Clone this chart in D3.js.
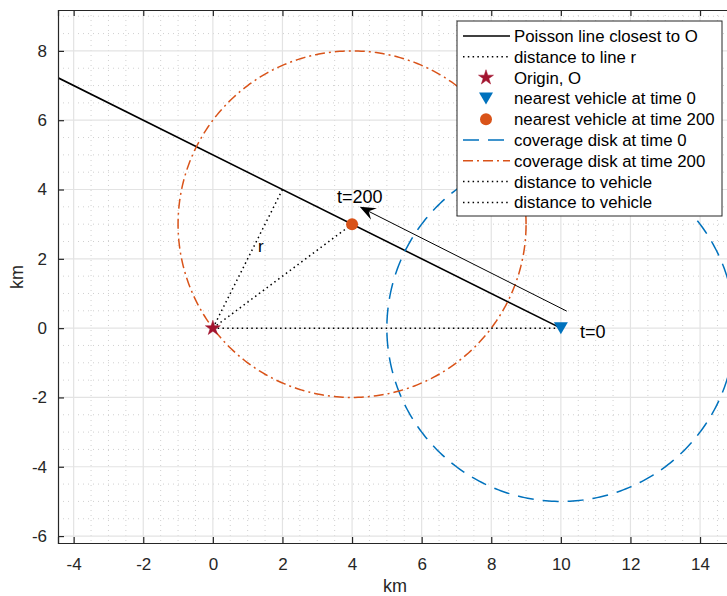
<!DOCTYPE html>
<html>
<head>
<meta charset="utf-8">
<script src="https://cdn.jsdelivr.net/npm/d3@7"></script>
<style>
  html, body { margin: 0; padding: 0; background: #fff; }
  svg { display: block; font-family: "Liberation Sans", Arial, Helvetica, sans-serif; }
</style>
</head>
<body>
<svg id="chart" width="727" height="596"></svg>
<script>
// Geometry of the scenario (km)
const origin = [0, 0];
const vehicleT0 = [10, 0];
const vehicleT200 = [4, 3];
const footOfPerpendicular = [2, 4];
const poissonLine = [[-6, 8], [10, 0]];
const coverageRadius = 5;
const arrowTail = [10.17, 0.49];
const arrowHead = [4.22, 3.5];
const labelT200 = { text: "t=200", pos: [4.22, 3.62] };
const labelT0 = { text: "t=0", pos: [10.55, -0.1] };
const labelR = { text: "r", pos: [1.38, 2.2] };

const xTicks = [-4, -2, 0, 2, 4, 6, 8, 10, 12, 14];
const yTicks = [-6, -4, -2, 0, 2, 4, 6, 8];
const xDomain = [-4.45, 15];
const yDomain = [-6.2, 9.18];

const legendEntries = [
  { label: "Poisson line closest to O", kind: "line", color: "#000", dash: null },
  { label: "distance to line r", kind: "line", color: "#000", dash: "1.5,3.3" },
  { label: "Origin, O", kind: "star", color: "#A2142F" },
  { label: "nearest vehicle at time 0", kind: "tri", color: "#0072BD" },
  { label: "nearest vehicle at time 200", kind: "circle", color: "#D95319" },
  { label: "coverage disk at time 0", kind: "line", color: "#0072BD", dash: "16,9" },
  { label: "coverage disk at time 200", kind: "line", color: "#D95319", dash: "10,4,2,4" },
  { label: "distance to vehicle", kind: "line", color: "#000", dash: "1.5,3.3" },
  { label: "distance to vehicle", kind: "line", color: "#000", dash: "1.5,3.3" }
];

const svg = d3.select("#chart");
const pLeft = 58, pTop = 10, pBottom = 543;
const unit = 34.8;
const pRight = pLeft + (xDomain[1] - xDomain[0]) * unit;

const x = d3.scaleLinear().domain(xDomain).range([pLeft, pRight]);
const y = d3.scaleLinear().domain(yDomain).range([pBottom, pTop]);

svg.append("defs").append("clipPath").attr("id", "plotClip")
  .append("rect").attr("x", pLeft).attr("y", pTop)
  .attr("width", pRight - pLeft).attr("height", pBottom - pTop);

// Minor grid (every 0.5 km)
const minorX = d3.range(-4, 15.01, 0.5).filter(v => Math.abs(v % 2) > 1e-9);
const minorY = d3.range(-6, 9.01, 0.5).filter(v => Math.abs(v % 2) > 1e-9);
const grid = svg.append("g").attr("clip-path", "url(#plotClip)");
grid.selectAll(".mx").data(minorX).join("line")
  .attr("x1", d => x(d)).attr("x2", d => x(d)).attr("y1", pTop).attr("y2", pBottom)
  .attr("stroke", "#d0d0d0").attr("stroke-width", 1).attr("stroke-dasharray", "1,4");
grid.selectAll(".my").data(minorY).join("line")
  .attr("y1", d => y(d)).attr("y2", d => y(d)).attr("x1", pLeft).attr("x2", pRight)
  .attr("stroke", "#d0d0d0").attr("stroke-width", 1).attr("stroke-dasharray", "1,4");
// Major grid
grid.selectAll(".Mx").data(xTicks).join("line")
  .attr("x1", d => x(d)).attr("x2", d => x(d)).attr("y1", pTop).attr("y2", pBottom)
  .attr("stroke", "#e3e3e3").attr("stroke-width", 1.2);
grid.selectAll(".My").data(yTicks).join("line")
  .attr("y1", d => y(d)).attr("y2", d => y(d)).attr("x1", pLeft).attr("x2", pRight)
  .attr("stroke", "#e3e3e3").attr("stroke-width", 1.2);

const plot = svg.append("g").attr("clip-path", "url(#plotClip)");
const lineGen = d3.line().x(d => x(d[0])).y(d => y(d[1]));

// Poisson line
plot.append("path").attr("d", lineGen(poissonLine))
  .attr("fill", "none").attr("stroke", "#000").attr("stroke-width", 1.6);

// Distance to line r
plot.append("path").attr("d", lineGen([origin, footOfPerpendicular]))
  .attr("fill", "none").attr("stroke", "#000").attr("stroke-width", 1.5)
  .attr("stroke-dasharray", "1.5,3.3");

// Coverage disks
const circleLine = (c, r) => lineGen(d3.range(0, 361, 1).map(a => {
  const t = a * Math.PI / 180;
  return [c[0] + r * Math.cos(t), c[1] + r * Math.sin(t)];
}));
plot.append("path").attr("d", circleLine(vehicleT0, coverageRadius))
  .attr("fill", "none").attr("stroke", "#0072BD").attr("stroke-width", 1.5)
  .attr("stroke-dasharray", "16,9");
plot.append("path").attr("d", circleLine(vehicleT200, coverageRadius))
  .attr("fill", "none").attr("stroke", "#D95319").attr("stroke-width", 1.5)
  .attr("stroke-dasharray", "10,4,2,4");

// Distance to vehicles
[vehicleT200, vehicleT0].forEach(v => {
  plot.append("path").attr("d", lineGen([origin, v]))
    .attr("fill", "none").attr("stroke", "#000").attr("stroke-width", 1.5)
    .attr("stroke-dasharray", "1.5,3.3");
});

// Markers
const starPath = d3.symbol().type(d3.symbolStar).size(70);
const triPath = "M-7,-6 L7,-6 L0,6 Z";
plot.append("path").attr("d", starPath())
  .attr("transform", `translate(${x(origin[0])},${y(origin[1])})`)
  .attr("fill", "#A2142F").attr("stroke", "#A2142F").attr("stroke-width", 0.5);
plot.append("path").attr("d", triPath)
  .attr("transform", `translate(${x(vehicleT0[0])},${y(vehicleT0[1])})`)
  .attr("fill", "#0072BD");
plot.append("circle").attr("cx", x(vehicleT200[0])).attr("cy", y(vehicleT200[1]))
  .attr("r", 6).attr("fill", "#D95319");

// Motion arrow
const ax1 = x(arrowTail[0]), ay1 = y(arrowTail[1]);
const ax2 = x(arrowHead[0]), ay2 = y(arrowHead[1]);
const ang = Math.atan2(ay2 - ay1, ax2 - ax1);
plot.append("line").attr("x1", ax1).attr("y1", ay1)
  .attr("x2", ax2 - 8 * Math.cos(ang)).attr("y2", ay2 - 8 * Math.sin(ang))
  .attr("stroke", "#000").attr("stroke-width", 1);
const hl = 16, hw = 6.5, back = 10;
const headPts = [
  [0, 0], [-hl, -hw], [-back, 0], [-hl, hw]
].map(([u, v]) => [ax2 + u * Math.cos(ang) - v * Math.sin(ang), ay2 + u * Math.sin(ang) + v * Math.cos(ang)]);
plot.append("path").attr("d", "M" + headPts.map(p => p.join(",")).join("L") + "Z")
  .attr("fill", "#000");

// Text labels
plot.append("text").attr("x", x(labelT200.pos[0])).attr("y", y(labelT200.pos[1]))
  .attr("text-anchor", "middle").attr("font-size", 18).attr("fill", "#000").text(labelT200.text);
plot.append("text").attr("x", x(labelT0.pos[0])).attr("y", y(labelT0.pos[1]) + 6.5)
  .attr("font-size", 18).attr("fill", "#000").text(labelT0.text);
plot.append("text").attr("x", x(labelR.pos[0])).attr("y", y(labelR.pos[1]))
  .attr("text-anchor", "middle").attr("font-size", 17).attr("fill", "#000").text(labelR.text);

// Axes (ticks inside)
const axisColor = "#262626";
const xAxis = svg.append("g").attr("transform", `translate(0,${pBottom})`)
  .call(d3.axisBottom(x).tickValues(xTicks).tickSize(-6).tickPadding(14).tickFormat(d3.format("d")));
const xAxisTop = svg.append("g").attr("transform", `translate(0,${pTop})`)
  .call(d3.axisTop(x).tickValues(xTicks).tickSize(-6).tickFormat(""));
const yAxis = svg.append("g").attr("transform", `translate(${pLeft},0)`)
  .call(d3.axisLeft(y).tickValues(yTicks).tickSize(-6).tickPadding(11).tickFormat(d3.format("d")));
[xAxis, xAxisTop, yAxis].forEach(g => {
  g.attr("font-size", 17);
  g.select(".domain").attr("stroke", axisColor).attr("stroke-width", 1.2);
  g.selectAll(".tick line").attr("stroke", axisColor).attr("stroke-width", 1.2);
  g.selectAll(".tick text").attr("fill", axisColor).attr("font-size", 17)
    .attr("font-family", "'Liberation Sans', Arial, sans-serif");
});
xAxis.selectAll(".tick text").attr("dy", "0.71em").attr("y", 15);
yAxis.selectAll(".tick text").text(d => String(d));
xAxis.selectAll(".tick text").text(d => String(d));

svg.append("text").attr("x", 395).attr("y", 592).attr("text-anchor", "middle")
  .attr("font-size", 18).attr("fill", axisColor).text("km");
svg.append("text").attr("transform", "translate(23,277) rotate(-90)").attr("text-anchor", "middle")
  .attr("font-size", 18).attr("fill", axisColor).text("km");

// Legend
const lgX = 457, lgY = 21, lgW = 265, lgH = 195, rowH = 20.8;
const legend = svg.append("g");
legend.append("rect").attr("x", lgX).attr("y", lgY).attr("width", lgW).attr("height", lgH)
  .attr("fill", "#fff").attr("stroke", "#262626").attr("stroke-width", 1);
legendEntries.forEach((e, i) => {
  const cy = lgY + 15 + i * rowH;
  const g = legend.append("g");
  if (e.kind === "line") {
    g.append("line").attr("x1", 463).attr("x2", 510).attr("y1", cy).attr("y2", cy)
      .attr("stroke", e.color).attr("stroke-width", e.dash && e.dash.startsWith("1.5") ? 1.5 : 1.6)
      .attr("stroke-dasharray", e.dash);
  } else if (e.kind === "star") {
    g.append("path").attr("d", starPath()).attr("transform", `translate(486,${cy})`)
      .attr("fill", e.color).attr("stroke", e.color).attr("stroke-width", 0.5);
  } else if (e.kind === "tri") {
    g.append("path").attr("d", triPath).attr("transform", `translate(486,${cy})`).attr("fill", e.color);
  } else {
    g.append("circle").attr("cx", 486).attr("cy", cy).attr("r", 6).attr("fill", e.color);
  }
  g.append("text").attr("x", 514).attr("y", cy + 6).attr("font-size", 16.8)
    .attr("fill", "#000").text(e.label);
});
</script>
</body>
</html>
